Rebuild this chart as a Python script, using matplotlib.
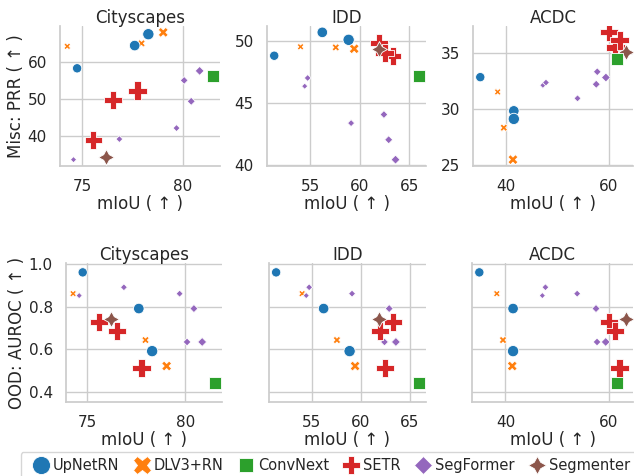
import matplotlib
matplotlib.use("Agg")
import matplotlib.pyplot as plt
import seaborn as sns
from matplotlib.lines import Line2D
from matplotlib.ticker import MultipleLocator

models = ["UpNetRN", "DLV3+RN", "ConvNext", "SETR", "SegFormer", "Segmenter"]
n_variants = [3, 3, 1, 3, 6, 1]

# werte modellweise: UpNetRN x3, DLV3+RN x3, ConvNext, SETR x3, SegFormer x6, Segmenter
miou_cityscapes = [74.76, 77.62, 78.30,
                   74.27, 77.96, 79.04,
                   81.50,
                   75.57, 76.53, 77.76,
                   74.58, 76.86, 79.70, 80.08, 80.43, 80.85,
                   76.18]
prr_cityscapes = [58.4, 64.6, 67.7,
                  64.4, 65.2, 68.2,
                  56.4,
                  38.9, 49.8, 52.3,
                  33.5, 39.1, 42.1, 55.1, 49.4, 57.7,
                  34.2]

miou_idd = [51.34, 56.20, 58.86,
            54.00, 57.56, 59.42,
            65.95,
            63.30, 61.93, 62.50,
            54.42, 54.72, 59.11, 62.43, 62.91, 63.60,
            61.90]
prr_idd = [48.82, 50.70, 50.10,
           49.54, 49.49, 49.38,
           47.17,
           48.80, 49.86, 49.05,
           46.37, 47.03, 43.40, 44.09, 42.06, 40.46,
           49.36]

miou_acdc = [34.94, 41.48, 41.48,
             38.33, 39.53, 41.31,
             61.55,
             60.00, 61.30, 62.10,
             47.15, 47.75, 53.90, 57.75, 57.55, 59.43,
             63.30]
prr_acdc = [32.82, 29.83, 29.12,
            31.51, 28.34, 25.51,
            34.40,
            36.79, 35.45, 36.08,
            32.10, 32.34, 30.94, 33.30, 32.19, 32.79,
            35.05]

ood_auroc = [0.962, 0.792, 0.592,
             0.862, 0.644, 0.522,
             0.442,
             0.730, 0.688, 0.514,
             0.853, 0.892, 0.862, 0.635, 0.792, 0.635,
             0.741]

datasets = ["Cityscapes", "IDD", "ACDC"]
miou = [miou_cityscapes, miou_idd, miou_acdc]
prr = [prr_cityscapes, prr_idd, prr_acdc]

# stil
colors = dict(zip(models, sns.color_palette("tab10", 6)))
markers = {"UpNetRN": "o", "DLV3+RN": "X", "ConvNext": (4, 0, 45),
           "SETR": "P", "SegFormer": (4, 0, 0), "Segmenter": (4, 1, 0)}
areas = {"UpNetRN": [45, 58, 66], "DLV3+RN": [24, 30, 52], "ConvNext": [135],
         "SETR": [165, 170, 175], "SegFormer": [20, 25, 26, 32, 34, 42],
         "Segmenter": [130]}
zorders = {"DLV3+RN": 2, "UpNetRN": 3, "SegFormer": 4, "SETR": 5,
           "Segmenter": 6, "ConvNext": 7}
x_step = [5, 5, 20]
prr_step = [10, 5, 5]


def scatter_models(ax, x, y):
    i = 0
    for m, n in zip(models, n_variants):
        ax.scatter(x[i:i + n], y[i:i + n], s=areas[m], marker=markers[m],
                   color=colors[m], edgecolors="white", linewidths=0.6,
                   zorder=zorders[m])
        i += n


sns.set_theme(style="whitegrid")
fig = plt.figure(figsize=(6.34, 4.76), dpi=100)
W, H = 634, 476

top_pos = [(60, 160), (267, 159), (473, 160)]
bot_pos = [(66, 156), (269, 157), (472, 161)]

for j, name in enumerate(datasets):
    # oben: PRR
    l, w = top_pos[j]
    ax = fig.add_axes([l / W, 1 - 166 / H, w / W, 140 / H])
    scatter_models(ax, miou[j], prr[j])
    ax.set_title(name, pad=2)
    ax.set_xlabel("mIoU ( ↑ )", labelpad=0.5)
    if j == 0:
        ax.set_ylabel("Misc: PRR ( ↑ )", labelpad=1.5)
    ax.xaxis.set_major_locator(MultipleLocator(x_step[j]))
    ax.yaxis.set_major_locator(MultipleLocator(prr_step[j]))
    sns.despine(ax=ax)

    # unten: OOD AUROC
    l, w = bot_pos[j]
    ax = fig.add_axes([l / W, 1 - 402 / H, w / W, 139 / H])
    scatter_models(ax, miou[j], ood_auroc)
    ax.set_title(name, pad=2)
    ax.set_xlabel("mIoU ( ↑ )", labelpad=0.5)
    ax.set_ylim(0.353, 1.006)
    if j == 0:
        ax.set_ylabel("OOD: AUROC ( ↑ )", labelpad=1.5)
    else:
        ax.tick_params(labelleft=False)
    ax.xaxis.set_major_locator(MultipleLocator(x_step[j]))
    ax.yaxis.set_major_locator(MultipleLocator(0.2))
    sns.despine(ax=ax)

handles = [Line2D([], [], marker=markers[m], color=colors[m], linestyle="",
                  markersize=15 if m == "ConvNext" else 13,
                  markeredgecolor="white", markeredgewidth=0.6)
           for m in models]
fig.legend(handles, models, loc="upper center", bbox_to_anchor=(0.518, 1 - 452 / H),
           ncol=6, frameon=True, fontsize=10.5, handlelength=1.95,
           handletextpad=-0.15, columnspacing=0.56, borderpad=0.4,
           borderaxespad=0)

fig.savefig("out.png", dpi=100)
